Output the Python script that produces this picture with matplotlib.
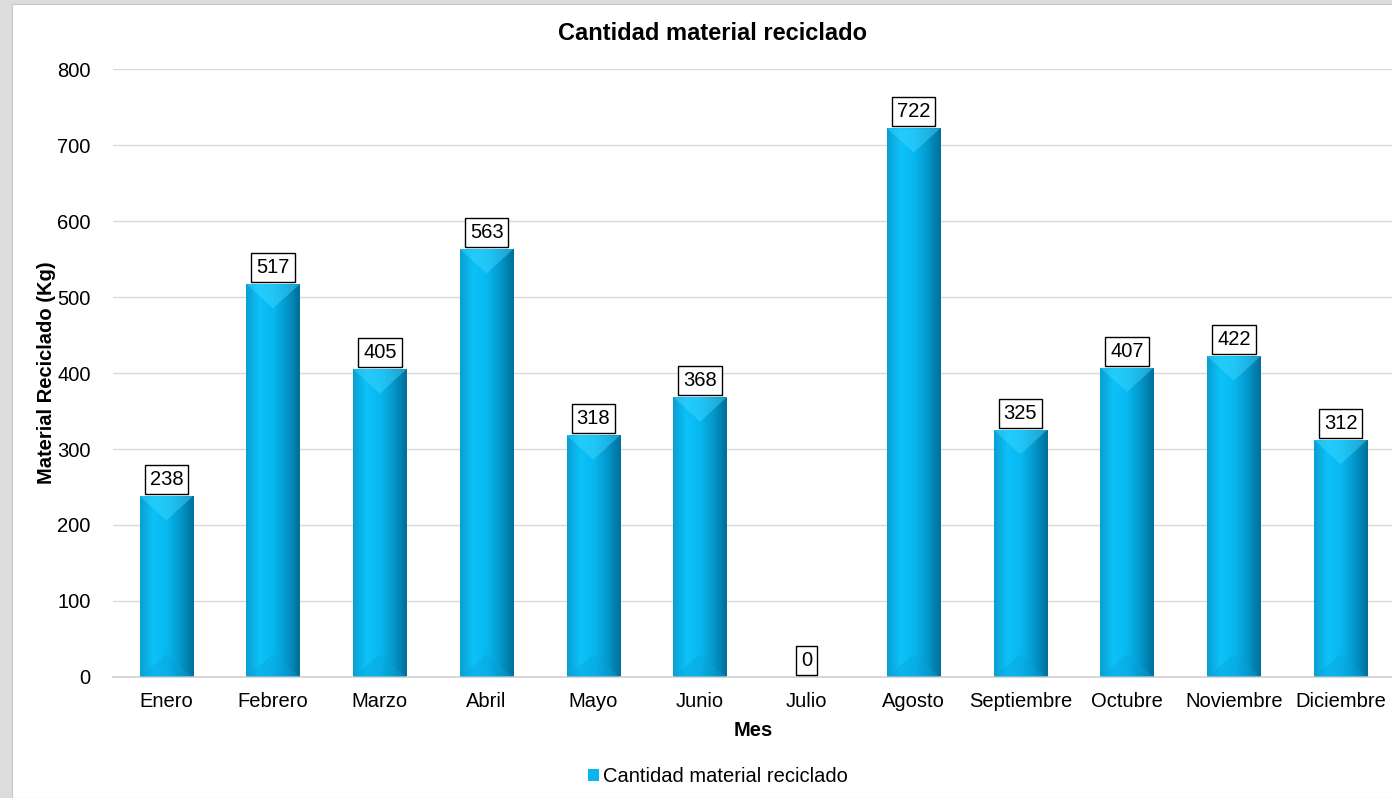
import matplotlib
matplotlib.use("Agg")
import matplotlib.pyplot as plt
import numpy as np
from matplotlib.patches import Rectangle
from matplotlib.colors import LinearSegmentedColormap

plt.rcParams['font.family'] = ['Liberation Sans', 'DejaVu Sans']

meses = ['Enero', 'Febrero', 'Marzo', 'Abril', 'Mayo', 'Junio', 'Julio',
         'Agosto', 'Septiembre', 'Octubre', 'Noviembre', 'Diciembre']
kg = [238, 517, 405, 563, 318, 368, 0, 722, 325, 407, 422, 312]
yticks = [0, 100, 200, 300, 400, 500, 600, 700, 800]

FS = 14.5

fig = plt.figure(figsize=(13.92, 7.98), dpi=100)
fig.patch.set_facecolor('#dcdcdc')
# white panel
fig.patches.append(Rectangle((12 / 1392, 0), 1.0, 1 - 4 / 798, transform=fig.transFigure,
                             facecolor='white', edgecolor='#c8c8c8', lw=0.8, zorder=-10))

ax = fig.add_axes([113 / 1392, 1 - 677 / 798, 1281 / 1392, 608 / 798])
ax.set_facecolor('none')
x = np.arange(len(meses))
bars = ax.bar(x, kg, width=0.5, color='#0ab4ec', zorder=2, label='Cantidad material reciclado')

# horizontal gradient on each bar
cmap = LinearSegmentedColormap.from_list('bar', ['#0a9ed2', '#0cc2f8', '#08b8f0', '#0398cc', '#006e98'])
grad = np.linspace(0, 1, 256).reshape(1, -1)
for b in bars:
    h = b.get_height()
    x0 = b.get_x()
    w = b.get_width()
    if h > 0:
        im = ax.imshow(grad, cmap=cmap, aspect='auto', extent=(x0, x0 + w, 0, h), zorder=2.5)
        im.set_clip_path(b)
        # top and bottom bevel
        ax.fill([x0, x0 + w, x0 + w * 0.5], [h, h, h - 32], color='#40d8ff', alpha=0.45, zorder=3, lw=0)
        ax.fill([x0, x0 + w, x0 + w * 0.5], [0, 0, 30], color='#0aa0d8', alpha=0.35, zorder=3, lw=0)
    ax.annotate(f'{h:.0f}', (x0 + w / 2, h), xytext=(0, 5), textcoords='offset points',
                ha='center', va='bottom', fontsize=FS, zorder=5,
                bbox=dict(boxstyle='square,pad=0.25', fc='white', ec='black', lw=1))

ax.set_xlim(-0.5, len(meses) - 0.5)
ax.set_ylim(0, 800)
ax.set_yticks(yticks)
ax.set_xticks(x)
ax.set_xticklabels(meses)
ax.tick_params(axis='both', length=0, labelsize=FS, colors='black')
ax.tick_params(axis='x', pad=11)
ax.tick_params(axis='y', pad=16)
ax.grid(axis='y', color='#d9d9d9', lw=1, zorder=0)
ax.set_axisbelow(True)
for s in ['top', 'right', 'left']:
    ax.spines[s].set_visible(False)
ax.spines['bottom'].set_color('#d0d0d0')
ax.spines['bottom'].set_linewidth(1.2)

ax.set_ylabel('Material Reciclado (Kg)', fontsize=FS, fontweight='bold', labelpad=1)
ax.set_xlabel('Mes', fontsize=FS, fontweight='bold', labelpad=7)
fig.text(712 / 1392, 1 - 34 / 798, 'Cantidad material reciclado', ha='center', va='center',
         fontsize=17, fontweight='bold')

leg = fig.legend(handles=[bars], labels=['Cantidad material reciclado'], loc='center',
                 bbox_to_anchor=(718 / 1392, 1 - 777 / 798), frameon=False, fontsize=FS,
                 handlelength=0.55, handleheight=0.55, handletextpad=0.2)

fig.savefig('out.png', dpi=100, facecolor=fig.get_facecolor())
